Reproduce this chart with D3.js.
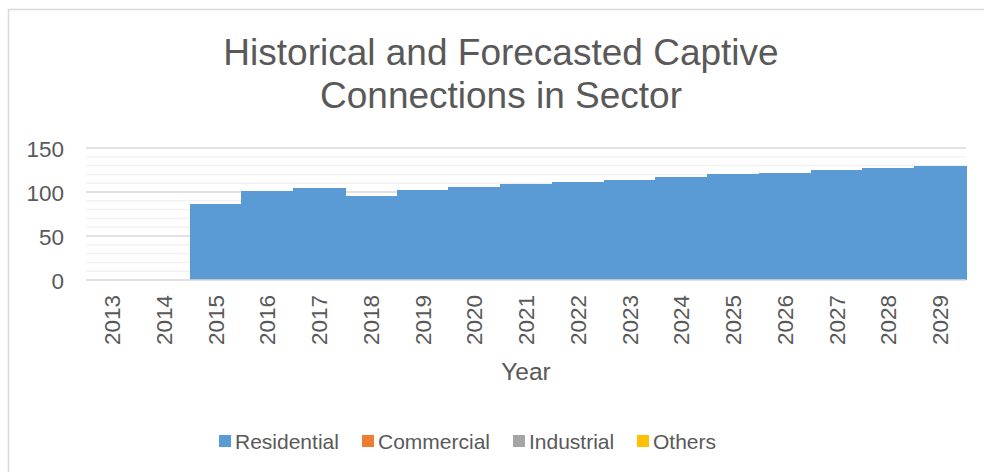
<!DOCTYPE html>
<html>
<head>
<meta charset="utf-8">
<script src="https://cdn.jsdelivr.net/npm/d3@7"></script>
<style>
html,body{margin:0;padding:0;background:#fff;}
svg{display:block;font-family:"Liberation Sans",Arial,sans-serif;}
</style>
</head>
<body>
<svg id="chart" width="984" height="472"></svg>
<script>
const years = ["2013","2014","2015","2016","2017","2018","2019","2020","2021","2022","2023","2024","2025","2026","2027","2028","2029"];
const residential = [0,0,86,101,104,96,102,106,109,111,114,117,120,122,125,127,130];
const commercial = [0,0,0,0,0,0,0,0,0,0,0,0,0,0,0,0,0];
const industrial = [0,0,0,0,0,0,0,0,0,0,0,0,0,0,0,0,0];
const others = [0,0,0,0,0,0,0,0,0,0,0,0,0,0,0,0,0];
const seriesNames = ["Residential","Commercial","Industrial","Others"];
const seriesColors = ["#5B9BD5","#ED7D31","#A5A5A5","#FFC000"];
const yTicks = [0,50,100,150];
const titleLines = ["Historical and Forecasted Captive","Connections in Sector"];
const xTitle = "Year";

(function(){
const svg = d3.select("#chart");
const textColor = "#595959";

// chart border
svg.append("rect").attr("x",8.5).attr("y",9.5).attr("width",1000).attr("height",500)
  .attr("fill","#fff").attr("stroke","#d9d9d9").attr("stroke-width",1.5);

const pL = 86, pR = 966, pT = 148, pB = 280;
const x = d3.scaleBand().domain(years).range([pL,pR]).paddingInner(0).paddingOuter(0);
const y = d3.scaleLinear().domain([0,150]).range([pB,pT]);

// minor gridlines
const minor = d3.range(0,151,10).filter(v=>!yTicks.includes(v));
svg.append("g").selectAll("line").data(minor).join("line")
  .attr("x1",pL).attr("x2",pR).attr("y1",d=>y(d)).attr("y2",d=>y(d))
  .attr("stroke","#f2f2f2").attr("stroke-width",1.5);
// major gridlines
svg.append("g").selectAll("line").data(yTicks.filter(v=>v>0)).join("line")
  .attr("x1",pL).attr("x2",pR).attr("y1",d=>y(d)).attr("y2",d=>y(d))
  .attr("stroke","#d9d9d9").attr("stroke-width",1.5);

// stacked data
const table = years.map((yr,i)=>({year:yr,Residential:residential[i],Commercial:commercial[i],Industrial:industrial[i],Others:others[i]}));
const stack = d3.stack().keys(seriesNames)(table);
svg.append("g").attr("shape-rendering","crispEdges").selectAll("g").data(stack).join("g")
  .attr("fill",(d,i)=>seriesColors[i])
  .selectAll("rect").data(d=>d).join("rect")
  .attr("x",d=>Math.round(x(d.data.year)))
  .attr("width",d=>Math.round(x(d.data.year)+x.bandwidth())-Math.round(x(d.data.year))+1)
  .attr("y",d=>y(d[1]))
  .attr("height",d=>Math.max(0,y(d[0])-y(d[1])));

// x axis line
svg.append("line").attr("x1",pL).attr("x2",pR).attr("y1",pB).attr("y2",pB)
  .attr("stroke","#d9d9d9").attr("stroke-width",1.5);

// y axis
const yAxis = d3.axisLeft(y).tickValues(yTicks).tickSize(0).tickPadding(22);
const gy = svg.append("g").attr("transform",`translate(${pL},0)`).call(yAxis);
gy.select(".domain").remove();
gy.selectAll("text").attr("fill",textColor).style("font-size","22.5px")
  .style("font-family","'Liberation Sans',Arial,sans-serif").attr("dy","0.36em");

// x axis labels
const xAxis = d3.axisBottom(x).tickSize(0).tickPadding(0);
const gx = svg.append("g").attr("transform",`translate(0,${pB})`).call(xAxis);
gx.select(".domain").remove();
gx.selectAll("text").attr("fill",textColor).style("font-size","22.5px")
  .style("font-family","'Liberation Sans',Arial,sans-serif")
  .attr("text-anchor","end").attr("transform","rotate(-90)")
  .attr("x",-15).attr("y",0).attr("dy","0.36em");

// title
svg.append("g").selectAll("text").data(titleLines).join("text")
  .attr("x",501).attr("y",(d,i)=>65+i*43)
  .attr("text-anchor","middle").attr("fill",textColor)
  .style("font-size","37px").text(d=>d);

// x title
svg.append("text").attr("x",526).attr("y",380).attr("text-anchor","middle")
  .attr("fill",textColor).style("font-size","24.5px").text(xTitle);

// legend
const legX = [219,362,513,637];
const lg = svg.append("g").selectAll("g").data(seriesNames).join("g")
  .attr("transform",(d,i)=>`translate(${legX[i]},435)`);
lg.append("rect").attr("width",12).attr("height",12).attr("fill",(d,i)=>seriesColors[i]);
lg.append("text").attr("x",16).attr("y",14).attr("fill",textColor)
  .style("font-size","21px").text(d=>d);
})();
</script>
</body>
</html>
